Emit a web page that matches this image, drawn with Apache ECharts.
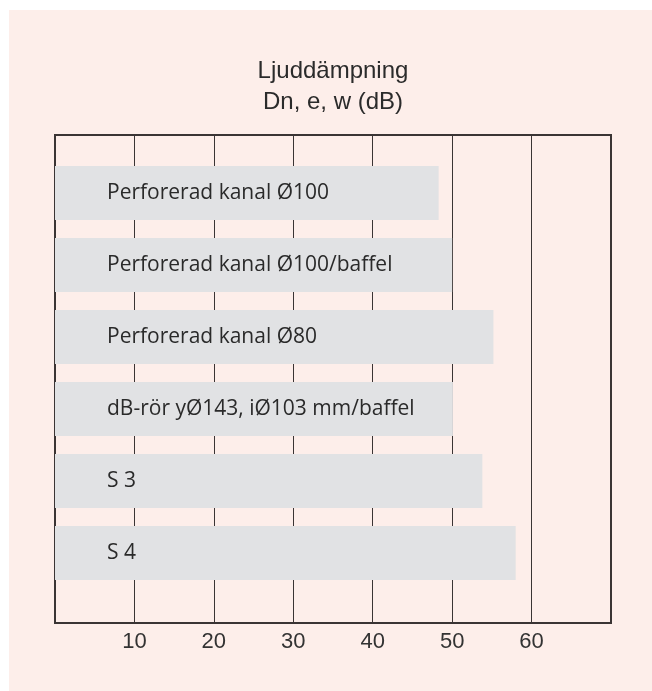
<!DOCTYPE html>
<html>
<head>
<meta charset="utf-8">
<script src="https://cdn.jsdelivr.net/npm/echarts@6/dist/echarts.min.js"></script>
<style>
html,body{margin:0;padding:0;background:#ffffff;}
#c{width:652px;height:691px;}
</style>
</head>
<body>
<div id="c"></div>
<script>
var categories = [
  'Perforerad kanal Ø100',
  'Perforerad kanal Ø100/baffel',
  'Perforerad kanal Ø80',
  'dB-rör yØ143, iØ103 mm/baffel',
  'S 3',
  'S 4'
];
var values = [48.3, 50, 55.2, 50.1, 53.8, 58];
var tickValues = [10, 20, 30, 40, 50, 60];
var titleLines = ['Ljuddämpning', 'Dn, e, w (dB)'];

var chart = echarts.init(document.getElementById('c'), null, {renderer: 'canvas'});
var option = {
  backgroundColor: 'transparent',
  animation: false,
  graphic: [
    {type: 'rect', z: -10, silent: true, shape: {x: 9, y: 10, width: 643, height: 681}, style: {fill: '#fdeeea'}},
    {type: 'text', x: 333, y: 87, style: {text: titleLines.join('\n'), align: 'center', verticalAlign: 'middle', lineHeight: 31, font: '24px "Liberation Sans", Arial, sans-serif', fill: '#2b2b2b'}}
  ],
  grid: [
    {left: 55, right: 41, top: 135, bottom: 68, show: true, borderColor: '#3a3434', borderWidth: 2, backgroundColor: 'transparent'},
    {left: 55, right: 41, top: 157, bottom: 102}
  ],
  xAxis: [
    {
      type: 'value', gridIndex: 0, min: 0, max: 70, interval: 10,
      axisLine: {show: false}, axisTick: {show: false},
      splitLine: {show: true, lineStyle: {color: '#3a3434', width: 1}},
      axisLabel: {
        show: true, margin: 8, color: '#333333', fontSize: 22,
        fontFamily: '"Liberation Sans", Arial, sans-serif',
        formatter: function (v) { return tickValues.indexOf(v) >= 0 ? String(v) : ''; }
      }
    },
    {type: 'value', gridIndex: 1, min: 0, max: 70, show: false}
  ],
  yAxis: [
    {type: 'value', gridIndex: 0, show: false, splitLine: {show: false}},
    {type: 'category', gridIndex: 1, data: categories, inverse: true, show: false}
  ],
  series: [{
    type: 'bar',
    xAxisIndex: 1, yAxisIndex: 1,
    data: values,
    barWidth: 54,
    itemStyle: {color: '#e1e2e4'},
    label: {
      show: true, position: 'insideLeft', distance: 52,
      formatter: function (p) { return p.name; },
      color: '#2a2a2a', fontSize: 21,
      fontFamily: '"Open Sans", sans-serif'
    }
  }]
};
chart.setOption(option);
</script>
</body>
</html>
